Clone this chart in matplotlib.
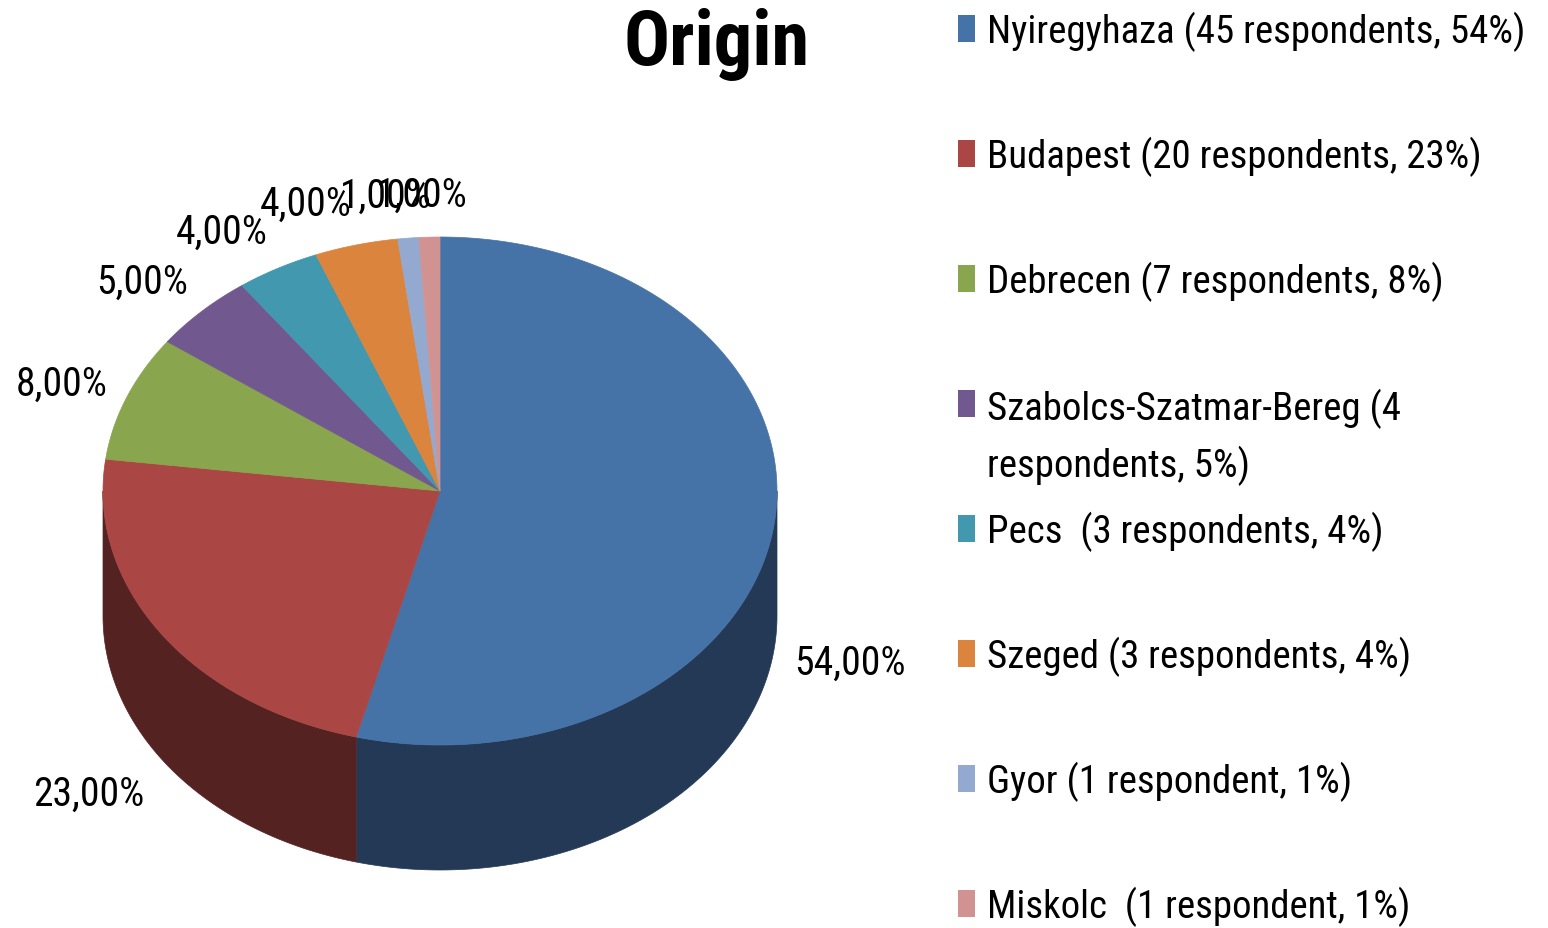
import numpy as np
import matplotlib
matplotlib.use("Agg")
import matplotlib.pyplot as plt
from matplotlib.patches import Polygon, Rectangle

# data
cities = ["Nyiregyhaza", "Budapest", "Debrecen", "Szabolcs-Szatmar-Bereg",
          "Pecs", "Szeged", "Gyor", "Miskolc"]
shares = [54, 23, 8, 5, 4, 4, 1, 1]
legend_labels = ["Nyiregyhaza (45 respondents, 54%)",
                 "Budapest (20 respondents, 23%)",
                 "Debrecen (7 respondents, 8%)",
                 "Szabolcs-Szatmar-Bereg (4\nrespondents, 5%)",
                 "Pecs  (3 respondents, 4%)",
                 "Szeged (3 respondents, 4%)",
                 "Gyor (1 respondent, 1%)",
                 "Miskolc  (1 respondent, 1%)"]
top_colors = ["#4673A7", "#AA4744", "#89A54E", "#71588F",
              "#4198AF", "#DB843D", "#93A9CF", "#D19392"]
side_colors = ["#243955", "#552222", "#45532A", "#3A2D4A",
               "#215060", "#70431F", "#4A5568", "#6A4A4A"]

plt.rcParams["font.family"] = ["Roboto Condensed", "IBM Plex Sans Condensed",
                               "DejaVu Sans"]

W, H = 1548, 929
fig = plt.figure(figsize=(W / 100, H / 100), dpi=100)
ax = fig.add_axes([0, 0, 1, 1])
ax.set_xlim(0, W)
ax.set_ylim(H, 0)
ax.axis("off")

# pie geometry (pixels)
cx, cy = 440, 492
rx, ry = 337, 254
depth = 125


def arc(t0, t1, n=200):
    t = np.radians(np.linspace(t0, t1, n))
    return cx + rx * np.sin(t), cy - ry * np.cos(t)


bounds = np.concatenate([[0], np.cumsum(shares)]) / sum(shares) * 360

# sides (front half only)
for i in range(len(shares)):
    a0, a1 = max(bounds[i], 90), min(bounds[i + 1], 270)
    if a1 <= a0:
        continue
    x, y = arc(a0, a1)
    pts = np.column_stack([np.concatenate([x, x[::-1]]),
                           np.concatenate([y, y[::-1] + depth])])
    ax.add_patch(Polygon(pts, closed=True, facecolor=side_colors[i],
                         edgecolor=side_colors[i], lw=0.5))

# top faces
for i in range(len(shares)):
    x, y = arc(bounds[i], bounds[i + 1])
    pts = np.column_stack([np.concatenate([[cx], x]), np.concatenate([[cy], y])])
    ax.add_patch(Polygon(pts, closed=True, facecolor=top_colors[i],
                         edgecolor=top_colors[i], lw=0.5))

# data labels
for i, v in enumerate(shares):
    mid = np.radians((bounds[i] + bounds[i + 1]) / 2)
    s, c = np.sin(mid), np.cos(mid)
    lx = cx + (rx + 20) * s
    ly = cy - ry * 1.18 * c
    if c < 0:
        ly += depth * 1.05
    if s < -0.15:
        ha = "right"
    elif s > 0.15:
        ha = "left"
    else:
        ha = "center"
        lx = cx + (rx + 20) * s * 1.6
    txt = f"{v:.2f}%".replace(".", ",")
    ax.text(lx, ly + 14, txt, fontsize=28.5, ha=ha, va="baseline", color="black")

# title
ax.text(717, 65, "Origin", fontsize=55, fontweight="bold", ha="center",
        va="baseline")

# legend
for i, lab in enumerate(legend_labels):
    base = 43 + 125 * i
    ax.add_patch(Rectangle((958, base - 27), 17, 27, facecolor=top_colors[i],
                           edgecolor="none"))
    nl = lab.count("\n")
    ax.text(987, base + 59 * nl, lab, fontsize=28, ha="left", va="baseline",
            linespacing=1.52)

fig.savefig("out.png", dpi=100)
